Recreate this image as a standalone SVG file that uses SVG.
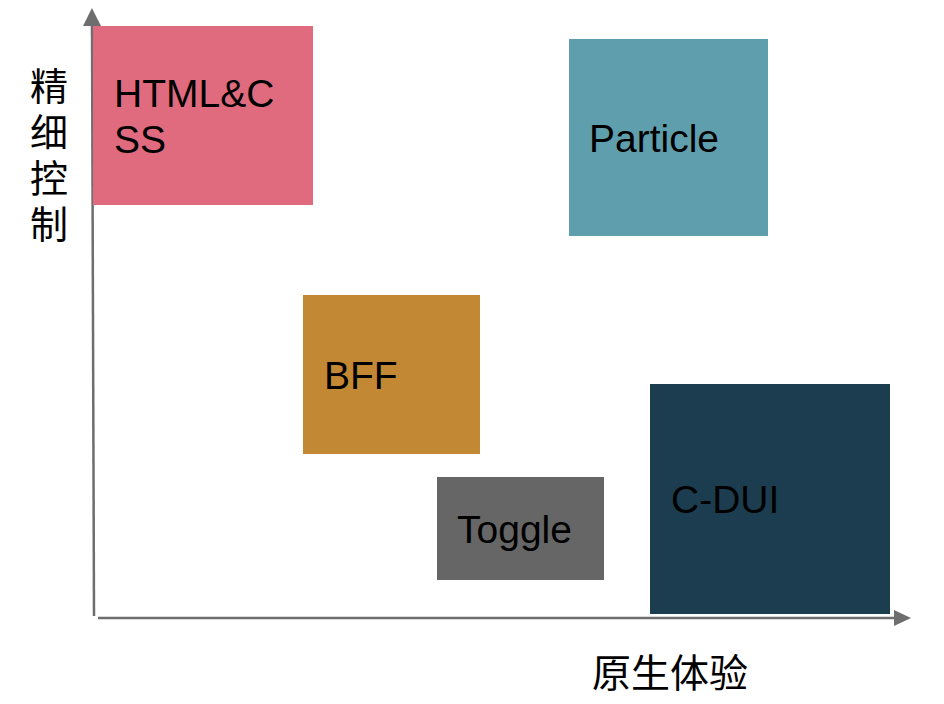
<svg xmlns="http://www.w3.org/2000/svg" width="944" height="704" viewBox="0 0 944 704">
  <style>
    .lbl { font-family: "Liberation Sans", Arial, sans-serif; font-size: 39px; fill: #000000; }
    .cjk { font-family: "Noto Sans CJK SC", sans-serif; font-size: 38px; fill: #000000; }
    .axis { stroke: #6E6E6E; stroke-width: 2.5; fill: none; }
  </style>
  <defs>
    <marker id="arrowV" markerUnits="userSpaceOnUse" markerWidth="18" markerHeight="18" refX="0" refY="9" orient="auto">
      <path d="M0,0 L18,9 L0,18 Z" fill="#6E6E6E"/>
    </marker>
    <marker id="arrowH" markerUnits="userSpaceOnUse" markerWidth="17" markerHeight="16" refX="0" refY="8" orient="auto">
      <path d="M0,0 L17,8 L0,16 Z" fill="#6E6E6E"/>
    </marker>
  </defs>
  <rect width="944" height="704" fill="#FFFFFF"/>

  <g id="connectors">
    <line class="axis" x1="94" y1="616" x2="92" y2="26" marker-end="url(#arrowV)"/>
    <line class="axis" x1="98" y1="618" x2="894" y2="618" marker-end="url(#arrowH)"/>
  </g>

  <g id="node-html-css">
    <rect x="93" y="26" width="220" height="179" fill="#E06A7E"/>
    <text class="lbl" x="114" y="107">HTML&amp;C</text>
    <text class="lbl" x="114" y="153">SS</text>
  </g>

  <g id="node-particle">
    <rect x="569" y="39" width="199" height="197" fill="#5F9FAD"/>
    <text class="lbl" x="589" y="152">Particle</text>
  </g>

  <g id="node-bff">
    <rect x="303" y="295" width="177" height="159" fill="#C38833"/>
    <text class="lbl" x="324" y="389">BFF</text>
  </g>

  <g id="node-toggle">
    <rect x="437" y="477" width="167" height="103" fill="#666666"/>
    <text class="lbl" x="457" y="543">Toggle</text>
  </g>

  <g id="node-cdui">
    <rect x="650" y="384" width="240" height="230" fill="#1B3D4F"/>
    <text class="lbl" x="671" y="513">C-DUI</text>
  </g>

  <g id="y-axis-label">
    <text class="cjk" x="49" y="67" writing-mode="vertical-rl" style="writing-mode:vertical-rl; letter-spacing:8px">精细控制</text>
  </g>

  <g id="x-axis-label">
    <text class="cjk" x="592" y="687" style="font-size:39px">原生体验</text>
  </g>
</svg>
